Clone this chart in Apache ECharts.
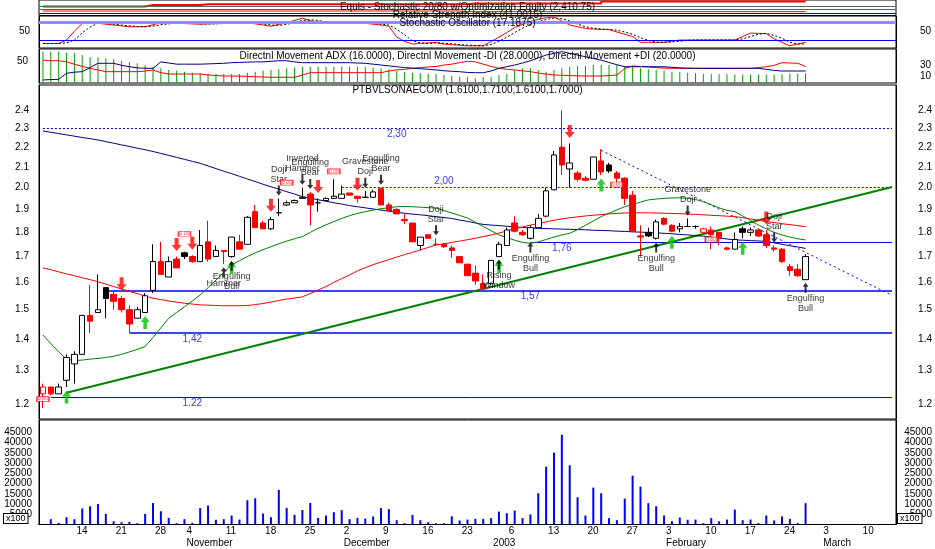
<!DOCTYPE html>
<html><head><meta charset="utf-8">
<script src="https://cdn.jsdelivr.net/npm/echarts@6/dist/echarts.min.js"></script>
<style>html,body{margin:0;padding:0;background:#fff}#c{width:935px;height:549px}</style>
</head><body><div id="c"></div>
<script>
// ---------------- DATA ----------------
const tradingDays = {
  '2002-10': [8,9,10,11,14,15,16,17,18,21,22,23,24,25,28,29,30,31],
  '2002-11': [4,5,6,7,8,11,12,13,14,15,18,19,20,21,22,25,26,27,28,29],
  '2002-12': [2,3,4,5,6,9,10,11,12,13,16,17,18,19,20,23,27,30,31],
  '2003-01': [2,3,6,7,8,9,10,13,14,15,16,17,20,21,22,23,24,27,28,29,30,31],
  '2003-02': [3,4,5,6,7,10,11,12,13,14,17,18,19,20,21,24,25,26,27,28],
  '2003-03': [3,4,5,6,7,10,11,12,13,14]
};
const monthNames = ['January','February','March','April','May','June','July','August','September','October','November','December'];

const opens = [1.23,1.25,1.23,1.27,1.32,1.35,1.48,1.49,1.58,1.555,
1.54,1.50,1.47,1.49,1.57,1.68,1.62,1.69,1.715,1.70,
1.68,1.76,1.70,1.725,1.70,1.76,1.75,1.89,1.84,1.815,
1.885,1.92,1.93,1.95,1.97,1.93,1.94,1.95,1.95,1.975,
1.96,1.955,1.955,1.995,1.92,1.90,1.855,1.84,1.745,1.79,
1.75,1.75,1.735,1.70,1.67,1.635,1.595,1.595,1.70,1.745,
1.84,1.80,1.775,1.82,1.87,1.99,2.20,2.09,2.07,2.045,
2.04,2.13,2.11,2.07,2.045,1.965,1.785,1.80,1.775,1.86,
1.83,1.815,1.825,1.825,1.80,1.81,1.80,1.735,1.73,1.815,
1.80,1.81,1.79,1.735,1.73,1.66,1.65,1.61];
const closes = [1.25,1.23,1.25,1.34,1.35,1.48,1.46,1.50,1.54,1.53,
1.50,1.45,1.50,1.55,1.68,1.63,1.68,1.655,1.70,1.68,
1.745,1.69,1.725,1.72,1.78,1.73,1.865,1.82,1.815,1.855,
1.885,1.93,1.94,1.955,1.92,1.93,1.95,1.96,1.97,1.965,
1.95,1.955,1.98,1.92,1.895,1.88,1.85,1.76,1.78,1.775,
1.75,1.74,1.725,1.675,1.625,1.605,1.578,1.685,1.75,1.81,
1.805,1.79,1.82,1.86,1.985,2.16,2.11,2.12,2.04,2.035,
2.15,2.075,2.08,2.045,1.95,1.805,1.78,1.785,1.845,1.835,
1.805,1.825,1.825,1.825,1.815,1.79,1.775,1.73,1.77,1.80,
1.81,1.785,1.745,1.73,1.68,1.645,1.625,1.70];
const lows = [1.19,1.225,1.23,1.25,1.26,1.35,1.42,1.49,1.47,1.50,
1.49,1.42,1.47,1.49,1.56,1.63,1.62,1.655,1.69,1.675,
1.68,1.68,1.70,1.67,1.695,1.73,1.75,1.82,1.815,1.81,
1.87,1.915,1.93,1.95,1.83,1.89,1.94,1.95,1.95,1.965,
1.93,1.955,1.955,1.92,1.89,1.88,1.835,1.76,1.725,1.775,
1.75,1.735,1.695,1.675,1.625,1.59,1.575,1.59,1.70,1.745,
1.80,1.785,1.77,1.82,1.865,1.99,2.06,2.0,2.03,2.03,
2.04,2.06,2.07,2.0,1.92,1.80,1.70,1.78,1.77,1.83,
1.80,1.80,1.825,1.815,1.80,1.73,1.745,1.725,1.73,1.775,
1.785,1.78,1.735,1.72,1.675,1.625,1.62,1.61];
const highs = [1.26,1.25,1.26,1.35,1.36,1.48,1.59,1.63,1.58,1.57,
1.55,1.515,1.51,1.56,1.75,1.76,1.70,1.70,1.72,1.705,
1.81,1.85,1.745,1.725,1.78,1.79,1.87,1.92,1.85,1.865,
1.95,1.94,1.945,2.0,1.98,1.95,1.955,2.04,2.01,1.975,
1.96,1.985,1.99,2.0,1.93,1.905,1.88,1.84,1.78,1.79,
1.775,1.755,1.745,1.70,1.67,1.665,1.63,1.685,1.76,1.82,
1.87,1.81,1.83,1.88,2.0,2.18,2.40,2.22,2.08,2.055,
2.15,2.19,2.12,2.08,2.05,1.985,1.83,1.82,1.855,1.865,
1.835,1.84,1.86,1.83,1.82,1.825,1.80,1.74,1.80,1.825,
1.82,1.815,1.81,1.745,1.735,1.67,1.67,1.71];
const volumes = [200,2600,800,3570,2600,7800,8900,10000,5200,1600,
1100,1300,650,5200,10500,6500,3250,650,2600,800,
8000,9250,2300,2600,4400,2400,11850,12800,5350,3570,
16900,8100,4700,7100,10500,3250,4400,6000,7000,2600,
3250,2900,3900,8000,7500,2100,650,4700,2100,1100,
650,650,4000,1950,2400,2750,2750,3100,6300,5500,
6800,3100,4900,15250,28200,35050,43800,28900,13300,4400,
18000,15250,3100,2100,12650,23850,18500,10400,8900,4400,
1600,3400,2300,2400,650,3100,1600,2400,7300,2100,
2400,650,4400,1950,3900,2750,650,10400];
const maLong = [2.286,2.279,2.272,2.265,2.258,2.251,2.245,2.238,2.229,2.221,
2.212,2.204,2.195,2.187,2.178,2.168,2.158,2.148,2.138,2.128,
2.118,2.105,2.092,2.079,2.067,2.054,2.041,2.029,2.016,2.004,
1.993,1.981,1.970,1.958,1.951,1.944,1.937,1.930,1.924,1.917,
1.912,1.907,1.902,1.897,1.892,1.887,1.883,1.879,1.876,1.872,
1.868,1.864,1.860,1.853,1.847,1.840,1.834,1.831,1.829,1.826,
1.823,1.821,1.818,1.817,1.816,1.815,1.814,1.813,1.812,1.811,
1.809,1.808,1.807,1.805,1.804,1.802,1.801,1.799,1.798,1.796,
1.794,1.791,1.789,1.786,1.784,1.780,1.776,1.772,1.768,1.767,
1.765,1.764,1.762,1.756,1.750,1.744,1.739,1.733];
const maMid = [1.655,1.648,1.640,1.632,1.625,1.617,1.610,1.602,1.593,1.584,
1.575,1.566,1.558,1.549,1.541,1.536,1.531,1.527,1.523,1.520,
1.517,1.516,1.515,1.514,1.514,1.514,1.515,1.518,1.522,1.527,
1.533,1.538,1.542,1.546,1.558,1.571,1.584,1.600,1.614,1.628,
1.644,1.656,1.668,1.678,1.688,1.698,1.708,1.717,1.727,1.737,
1.747,1.752,1.758,1.763,1.769,1.775,1.782,1.789,1.797,1.806,
1.815,1.823,1.831,1.838,1.845,1.852,1.858,1.863,1.867,1.871,
1.874,1.877,1.880,1.882,1.884,1.885,1.885,1.885,1.884,1.883,
1.882,1.881,1.879,1.878,1.876,1.874,1.872,1.870,1.868,1.863,
1.858,1.852,1.846,1.842,1.837,1.833,1.829,1.824];
const maShort = [1.413,1.385,1.358,1.335,1.330,1.332,1.335,1.337,1.340,1.344,
1.350,1.358,1.366,1.375,1.405,1.437,1.470,1.490,1.510,1.531,
1.553,1.580,1.608,1.637,1.667,1.684,1.700,1.715,1.728,1.740,
1.752,1.763,1.773,1.782,1.800,1.817,1.832,1.846,1.860,1.872,
1.882,1.890,1.897,1.903,1.908,1.912,1.913,1.912,1.910,1.908,
1.906,1.895,1.884,1.873,1.862,1.843,1.825,1.807,1.789,1.778,
1.767,1.758,1.754,1.760,1.770,1.780,1.789,1.796,1.812,1.830,
1.849,1.868,1.883,1.898,1.912,1.922,1.933,1.943,1.947,1.950,
1.952,1.953,1.950,1.945,1.935,1.921,1.907,1.896,1.890,1.871,
1.851,1.831,1.815,1.800,1.789,1.780,1.773,1.768];
const stochK = [8,8,8,20,50,78,78,78,75,72,
69,66,66,66,73,80,79,78,77,76,
75,76,77,78,80,80,80,76,72,68,
74,80,88,96,87,82,78,80,82,84,
81,78,75,72,68,30,15,6,8,10,
12,6,4,2,0,0,0,15,30,46,
63,74,84,92,97,100,86,72,66,60,
58,57,56,48,40,32,12,12,12,12,
16,20,20,20,20,20,20,20,20,32,
44,43,42,24,12,0,6,12];
const stochD = [8,8,8,10,20,45,65,78,77,75,
72,69,67,66,68,73,76,79,78,77,
76,76,76,77,78,79,80,79,76,72,
71,74,81,88,90,88,82,80,80,82,
82,81,78,75,72,57,38,17,10,8,
10,9,7,4,2,1,0,5,15,30,
46,61,74,83,91,96,94,86,75,66,
61,58,57,54,48,40,28,19,12,12,
13,16,19,20,20,20,20,20,20,24,
32,40,43,36,26,12,6,6];
const adx = [54,54,54,52,51,48,44,44,42,40.5,
38,36,33.5,30.5,27.5,24.7,21.8,20.6,18.8,17,
16,14.7,14.7,14.7,14.7,14.7,17,18.8,20.6,21.8,
23,24.7,26,27.5,27.5,27.5,27.5,27.5,27.5,27.5,
27.5,27.5,26,24.7,23,20.6,18.8,17,16,14.7,
14.7,13,11.2,10,9,7.2,8.9,10,13,14.7,
21.8,24.7,24.7,21.8,18.8,21.8,24.7,27.5,28.8,28.8,
30.5,30.5,30.5,30.5,28.8,27.5,24.7,23,21.8,20.6,
18.8,18.8,17,16,14.7,14.7,14.5,14.3,14,14,
14,14,14,14,14.5,15,15.5,16];
const minusDI = [39,38,38,36,32,28,24.7,21.8,18.8,18.8,
18.8,18.8,18.8,20,21.8,17,14.7,14.7,14.7,14.7,
14.7,13,12,11.2,11.2,11,10.5,10,9.5,9,
9,9,9,13,17,17,17,17,17,17,
17,17,17,17,20,22,23,24.7,26,27,
28,30.5,32,34.6,37,36,32,28,24.7,23,
21.8,20.3,18.8,16.5,14.5,13,12.5,12,11.5,11.2,
11.2,11.2,12,13,24.7,28.8,28,27,26,25,
24.7,24.7,24.7,24.7,24.7,24.7,24.7,24.7,24.7,24.7,
24.7,26,27.5,30,34.6,34,33.5,28];
const plusDI = [4.2,5,5.4,16,18,18.8,26,33.5,33.5,33.5,
30,27.5,25.5,24.7,24.7,36,34,32,32,32,
32,32.5,33,33.5,34.6,35,35.5,36,36,37,
38,38,36,34.6,34.6,34.6,34.6,34.6,34.6,34.6,
34,33.5,32,30.5,29,27.5,26,25,24,23,
21.8,20.5,19.5,18.8,17.5,17,17,20,24.7,27.5,
30.5,34,38,43,48,51,54,51,48,45,
42,39,35,31,27.5,27.5,27.5,27.5,27.5,27.5,
26.5,25.5,25,24.7,24.7,24.7,24.7,24.7,24.7,24.7,
24.7,24.7,23,21,20,20,20,20];
const equity = [58,58,58,58,58,58,58,58,58,58,
58,58,58,68,68,68,68,68,68,68,
72,72,72,72,72,72,72,72,72,72,
72,72,72,72,72,72,72,72,72,72,
72,72,72,72,72,72,72,72,72,72,
72,72,72,72,77,77,77,77,77,77,
77,77,77,77,77,77,77,77,77,77,
77,90,90,90,90,90,90,90,90,90,
90,90,90,90,90,90,90,90,90,90,
90,90,90,90,90,90,90,90];
const equityBase = [29,29,29,29,29,29,29,29,29,29,
29,29,29,29,29,29,29,29,29,29,
29,29,29,29,29,29,29,29,29,29,
29,29,29,29,29,29,29,29,29,29,
29,29,29,29,29,29,29,29,29,29,
29,29,29,29,25,25,25,25,25,25,
25,25,25,25,25,25,25,25,25,25,
25,25,25,25,25,25,25,25,25,25,
25,25,25,25,25,25,25,25,25,25,
25,25,25,25,25,25,25,25];

const levelValues = [2.30, 2.00, 1.76, 1.57, 1.42, 1.22];
const levelLabels = ['2,30', '2,00', '1,76', '1,57', '1,42', '1.22'];
const levelStart  = [0, 38, 62, 8, 11, 1];
const levelLabelAt = [45, 51, 66, 62, 19, 19];
const supportLine = [[3, 1.233], [108, 2.003]];
const resistLine  = [[71, 2.184], [108, 1.551]];

const sellSignals = [10, 17, 19, 29, 35, 40, 67, 92];
const buySignals  = [3, 13, 24, 58, 71, 80, 89];
const bearPatterns = [[30,'Doji\nStar'],[33,'Inverted\nHammer'],[34,'Engulfing\nBear'],[41,'Gravestone\nDoji'],[43,'Engulfing\nBear'],[50,'Doji\nStar'],[82,'Gravestone\nDoji'],[93,'Doji\nStar']];
const bullPatterns = [[23,'Hammer'],[24,'Engulfing\nBull'],[58,'Rising\nWindow'],[62,'Engulfing\nBull'],[78,'Engulfing\nBull'],[97,'Engulfing\nBull']];
const zeroMarks = [[0,1.215],[18,1.793],[31,2.024],[37,2.078],[73,2.015],[85,1.770]];

const priceTicks = [1.2,1.3,1.4,1.5,1.6,1.7,1.8,1.9,2.0,2.1,2.2,2.3,2.4];
const priceMinorTicks = [1.2,1.25,1.3,1.35,1.4,1.45,1.5,1.55,1.6,1.65,1.7,1.75,1.8,1.85,1.9,1.95,2.0,2.05,2.1,2.15,2.2,2.25,2.3,2.35,2.4,2.45,2.5];
const volumeTicks = [5000,10000,15000,20000,25000,30000,35000,40000,45000];
const volumeMinorTicks = [2500,5000,7500,10000,12500,15000,17500,20000,22500,25000,27500,30000,32500,35000,37500,40000,42500,45000,47500,50000];

const titles = {
  equity: 'Equis - Stochastic 20/80 w/Optimization Equity (2,410.75)',
  rsi: 'Relative Strength Index (41.0015)',
  stoch: 'Stochastic Oscillator (17.1875)',
  dmi: 'Directnl Movement ADX (16.0000), Directnl Movement -DI (28.0000), Directnl Movement +DI (20.0000)',
  price: 'PTBVLSONAECOM (1.6100,1.7100,1.6100,1.7000)'
};

// ---------------- BUILD ----------------
const dates = [];
for (const ym in tradingDays) for (const d of tradingDays[ym]) dates.push(ym + '-' + String(d).padStart(2, '0'));
const jsDate = s => new Date(s + 'T12:00:00Z');
const isMonthStart = dates.map((s, i) => i > 0 && s.slice(5, 7) !== dates[i - 1].slice(5, 7));
const isWeekStart = dates.map((s, i) => i > 0 && jsDate(s).getUTCDay() <= jsDate(dates[i - 1]).getUTCDay());
const showDay = dates.map((s, i) => {
  if (!isWeekStart[i]) return false;
  for (let j = i + 1; j < dates.length && !isWeekStart[j]; j++) if (isMonthStart[j]) return false;
  return true;
});
const monthLabel = s => { const m = +s.slice(5, 7); return m === 1 ? s.slice(0, 4) : monthNames[m - 1]; };

const FONT = 'Liberation Sans, Arial, sans-serif';
const L = 39, R = 39;
const black = '#000000';

function candleStyle(i) {
  const o = opens[i], c = closes[i];
  const prev = i > 0 ? closes[i - 1] : Infinity;
  const col = c < prev ? '#ff0000' : black;
  const fill = c >= o ? '#ffffff' : col;
  return { color: fill, color0: fill, borderColor: col, borderColor0: col, borderWidth: 1 };
}
const candleData = opens.map((o, i) => ({ value: [o, closes[i], lows[i], highs[i]], itemStyle: candleStyle(i) }));

const ARROW_DOWN_BIG = 'path://M3,0 L7,0 L7,7 L10,7 L5,13 L0,7 L3,7 Z';
const ARROW_UP_BIG = 'path://M5,0 L10,6 L7,6 L7,13 L3,13 L3,6 L0,6 Z';
const ARROW_DOWN_THIN = 'path://M2,0 L4,0 L4,6 L6,6 L3,10 L0,6 L2,6 Z';
const ARROW_UP_THIN = 'path://M3,0 L6,4 L4,4 L4,10 L2,10 L2,4 L0,4 Z';

const labelSideStyle = { '2,00': 'top' };
const dottedLevel = { '2,30': true, '2,00': true };

const lastCat = dates[dates.length - 1];
const markLines = levelValues.map((v, k) => [
  { coord: [dates[levelStart[k]], v], lineStyle: { color: '#0000ff', width: (v === 1.57 || v === 1.42) ? 1.5 : 1, type: dottedLevel[levelLabels[k]] ? [2, 2] : 'solid' } },
  { coord: [lastCat, v] }
]);
markLines.push([
  { coord: [dates[supportLine[0][0]], supportLine[0][1]], lineStyle: { color: '#008000', width: 2, type: 'solid' } },
  { coord: [dates[supportLine[1][0]], supportLine[1][1]] }
]);
markLines.push([
  { coord: [dates[resistLine[0][0]], resistLine[0][1]], lineStyle: { color: '#0000ff', width: 1, type: [2, 3] } },
  { coord: [dates[resistLine[1][0]], resistLine[1][1]] }
]);

const hiddenCat = g => ({ type: 'category', gridIndex: g, data: dates, boundaryGap: true, show: false });
const axisFont = { fontSize: 10, color: black, fontFamily: FONT };

const option = {
  animation: false,
  backgroundColor: '#ffffff',
  textStyle: { fontFamily: FONT },
  title: [
    { text: titles.equity, left: 'center', top: 2 },
    { text: titles.rsi, left: 'center', top: 10 },
    { text: titles.stoch, left: 'center', top: 18 },
    { text: titles.dmi, left: 'center', top: 51 },
    { text: titles.price, left: 'center', top: 85 }
  ].map(t => Object.assign(t, { padding: 0, textStyle: { fontSize: 10, fontWeight: 'normal', color: black, fontFamily: FONT } })),
  grid: [
    { left: L, right: R, top: 0, height: 15.5 },
    { left: L, right: R, top: 16, height: 32 },
    { left: L, right: R, top: 49, height: 34 },
    { left: L, right: R, top: 85, height: 334 },
    { left: L, right: R, top: 420, height: 104.5 }
  ].map(g => Object.assign(g, { show: true, borderColor: black, borderWidth: 1, backgroundColor: 'transparent' })),
  xAxis: [
    hiddenCat(0), hiddenCat(1), hiddenCat(2), hiddenCat(3),
    { type: 'category', gridIndex: 4, data: dates, boundaryGap: true, position: 'bottom',
      axisLine: { lineStyle: { color: black } },
      axisTick: { alignWithLabel: true, length: 12.5, interval: i => isWeekStart[i] || isMonthStart[i], lineStyle: { color: black } },
      axisLabel: Object.assign({ interval: i => showDay[i], formatter: v => String(+v.slice(8)), align: 'left', margin: 2, padding: [0, 0, 0, 2] }, axisFont) },
    { type: 'category', gridIndex: 4, data: dates, boundaryGap: true, position: 'bottom', offset: 12.5,
      axisLine: { lineStyle: { color: black } },
      axisTick: { alignWithLabel: true, length: 11, interval: i => isMonthStart[i], lineStyle: { color: black } },
      axisLabel: Object.assign({ interval: i => isMonthStart[i], formatter: v => monthLabel(v), align: 'left', margin: 1, padding: [0, 0, 0, 2] }, axisFont) }
  ],
  yAxis: [
    { type: 'value', gridIndex: 0, min: 0, max: 100, show: false },
    { type: 'value', gridIndex: 1, min: -7.7, max: 103.3, position: 'left', splitLine: { show: false },
      axisLine: { show: true, lineStyle: { color: black } },
      axisTick: { customValues: [0, 25, 50, 75, 100], length: 4, lineStyle: { color: black } },
      axisLabel: Object.assign({ customValues: [50], margin: 9 }, axisFont) },
    { type: 'value', gridIndex: 1, min: -7.7, max: 103.3, position: 'right', splitLine: { show: false },
      axisLine: { show: true, lineStyle: { color: black } },
      axisTick: { customValues: [0, 25, 50, 75, 100], length: 4, lineStyle: { color: black } },
      axisLabel: Object.assign({ customValues: [50], margin: 35, align: 'right' }, axisFont) },
    { type: 'value', gridIndex: 2, min: -1.05, max: 77.85, position: 'left', splitLine: { show: false },
      axisLine: { show: true, lineStyle: { color: black } },
      axisTick: { customValues: [10, 30, 50, 70], length: 4, lineStyle: { color: black } },
      axisLabel: Object.assign({ customValues: [50], margin: 11 }, axisFont) },
    { type: 'value', gridIndex: 2, min: -1.05, max: 58.6, position: 'right', splitLine: { show: false },
      axisLine: { show: true, lineStyle: { color: black } },
      axisTick: { customValues: [10, 20, 30, 40, 50], length: 4, lineStyle: { color: black } },
      axisLabel: Object.assign({ customValues: [10, 30], margin: 35, align: 'right' }, axisFont) },
    { type: 'log', logBase: 10, gridIndex: 3, min: 1.1592, max: 2.5476, position: 'left', splitLine: { show: false },
      axisLine: { show: true, lineStyle: { color: black } },
      axisTick: { customValues: priceTicks, length: 6, lineStyle: { color: black } },
      axisLabel: Object.assign({ customValues: priceTicks, margin: 10, formatter: v => (+v).toFixed(1) }, axisFont) },
    { type: 'log', logBase: 10, gridIndex: 3, min: 1.1592, max: 2.5476, position: 'right', splitLine: { show: false },
      axisLine: { show: true, lineStyle: { color: black } },
      axisTick: { customValues: priceTicks, length: 6, lineStyle: { color: black } },
      axisLabel: Object.assign({ customValues: priceTicks, margin: 36, align: 'right', formatter: v => (+v).toFixed(1) }, axisFont) },
    { type: 'log', logBase: 10, gridIndex: 3, min: 1.1592, max: 2.5476, position: 'left', splitLine: { show: false },
      axisLine: { show: false }, axisLabel: { show: false },
      axisTick: { customValues: priceMinorTicks, length: 3, lineStyle: { color: black } } },
    { type: 'log', logBase: 10, gridIndex: 3, min: 1.1592, max: 2.5476, position: 'right', splitLine: { show: false },
      axisLine: { show: false }, axisLabel: { show: false },
      axisTick: { customValues: priceMinorTicks, length: 3, lineStyle: { color: black } } },
    { type: 'value', gridIndex: 4, min: 0, max: 51000, position: 'left', splitLine: { show: false },
      axisLine: { show: true, lineStyle: { color: black } },
      axisTick: { customValues: volumeMinorTicks, length: 3, lineStyle: { color: black } },
      axisLabel: Object.assign({ customValues: volumeTicks, margin: 7, formatter: v => String(v) }, axisFont) },
    { type: 'value', gridIndex: 4, min: 0, max: 51000, position: 'right', splitLine: { show: false },
      axisLine: { show: true, lineStyle: { color: black } },
      axisTick: { customValues: volumeMinorTicks, length: 3, lineStyle: { color: black } },
      axisLabel: Object.assign({ customValues: volumeTicks, margin: 36, align: 'right', formatter: v => String(v) }, axisFont) }
  ],
  series: [
    // equity pane
    { type: 'line', xAxisIndex: 0, yAxisIndex: 0, data: equity, step: 'end', showSymbol: false, lineStyle: { color: '#ff0000', width: 2 },
      markLine: { silent: true, symbol: ['none', 'none'], label: { show: false },
        data: [{ yAxis: 58, lineStyle: { color: '#606060', width: 1, type: 'solid' } }, { yAxis: 42, lineStyle: { color: '#606060', width: 1, type: 'solid' } }, { yAxis: 14, lineStyle: { color: '#0000ff', width: 1, type: 'solid' } }] } },
    { type: 'line', xAxisIndex: 0, yAxisIndex: 0, data: equityBase, showSymbol: false, lineStyle: { color: '#ff0000', width: 1 } },
    // stochastic pane
    { type: 'line', xAxisIndex: 1, yAxisIndex: 1, data: stochK, showSymbol: false, lineStyle: { color: '#ff0000', width: 1 },
      markLine: { silent: true, symbol: ['none', 'none'], label: { show: false },
        data: [{ yAxis: 80, lineStyle: { color: '#8c8cff', width: 3, type: 'solid' } }, { yAxis: 20, lineStyle: { color: '#0000ff', width: 1, type: 'solid' } }] } },
    { type: 'line', xAxisIndex: 1, yAxisIndex: 1, data: stochD, showSymbol: false, lineStyle: { color: black, width: 1, type: [2, 2] } },
    // DMI pane
    { type: 'bar', xAxisIndex: 2, yAxisIndex: 4, data: adx, barWidth: 1, itemStyle: { color: '#00a000' } },
    { type: 'line', xAxisIndex: 2, yAxisIndex: 4, data: minusDI, showSymbol: false, lineStyle: { color: '#ff0000', width: 1 } },
    { type: 'line', xAxisIndex: 2, yAxisIndex: 4, data: plusDI, showSymbol: false, lineStyle: { color: '#000080', width: 1 } },
    // price pane
    { type: 'line', xAxisIndex: 3, yAxisIndex: 5, data: maLong, showSymbol: false, lineStyle: { color: '#000080', width: 1 }, z: 1 },
    { type: 'line', xAxisIndex: 3, yAxisIndex: 5, data: maMid, showSymbol: false, lineStyle: { color: '#ff0000', width: 1 }, z: 1 },
    { type: 'line', xAxisIndex: 3, yAxisIndex: 5, data: maShort, showSymbol: false, lineStyle: { color: '#008000', width: 1 }, z: 1 },
    { type: 'candlestick', xAxisIndex: 3, yAxisIndex: 5, data: candleData, barWidth: 6, z: 3,
      markLine: { silent: true, symbol: ['none', 'none'], label: { show: false }, data: markLines, z: 1 } },
    { type: 'scatter', xAxisIndex: 3, yAxisIndex: 5, z: 5, symbol: 'rect', symbolSize: 0,
      label: { show: true, color: '#0000ff', fontSize: 10, fontFamily: FONT, distance: 1, formatter: p => p.data.name },
      data: levelValues.map((v, k) => ({ name: levelLabels[k], value: [dates[levelLabelAt[k]], v], label: { position: labelSideStyle[levelLabels[k]] || 'bottom' } })) },
    { type: 'scatter', xAxisIndex: 3, yAxisIndex: 5, z: 6, symbol: ARROW_DOWN_BIG, symbolSize: [10, 13], symbolOffset: [0, -12],
      itemStyle: { color: '#ff0000' }, data: sellSignals.map(i => [dates[i], highs[i]]) },
    { type: 'scatter', xAxisIndex: 3, yAxisIndex: 5, z: 6, symbol: ARROW_UP_BIG, symbolSize: [9, 13], symbolOffset: [0, 10],
      itemStyle: { color: '#00c000' }, data: buySignals.map(i => [dates[i], lows[i]]) },
    { type: 'scatter', xAxisIndex: 3, yAxisIndex: 5, z: 7, symbol: ARROW_DOWN_THIN, symbolSize: [6, 10], symbolOffset: [0, -8],
      itemStyle: { color: black },
      label: { show: true, position: 'top', distance: 1, color: black, fontSize: 9, lineHeight: 10, fontFamily: FONT, formatter: p => p.data.name },
      data: bearPatterns.map(([i, t]) => ({ name: t, value: [dates[i], highs[i]] })) },
    { type: 'scatter', xAxisIndex: 3, yAxisIndex: 5, z: 7, symbol: ARROW_UP_THIN, symbolSize: [6, 10], symbolOffset: [0, 8],
      itemStyle: { color: black },
      label: { show: true, position: 'bottom', distance: 1, color: black, fontSize: 9, lineHeight: 10, fontFamily: FONT, formatter: p => p.data.name },
      data: bullPatterns.map(([i, t]) => ({ name: t, value: [dates[i], lows[i]] })) },
    { type: 'scatter', xAxisIndex: 3, yAxisIndex: 5, z: 8, symbol: 'rect', symbolSize: [12, 5],
      itemStyle: { color: '#ffffff', borderColor: '#ff0000', borderWidth: 1 },
      label: { show: true, position: 'inside', color: '#ff0000', fontSize: 5, formatter: '0.00' },
      data: zeroMarks.map(([i, v]) => [dates[i], v]) },
    // volume pane
    { type: 'bar', xAxisIndex: 4, yAxisIndex: 9, data: volumes, barWidth: 2, itemStyle: { color: '#0000ff' } }
  ],
  graphic: [
    { type: 'text', left: 3, top: 513, z: 100, style: { text: 'x100', fontSize: 9, fontFamily: FONT, fill: black, backgroundColor: '#ffffff', borderColor: black, borderWidth: 1, padding: [0, 2] } },
    { type: 'text', left: 897, top: 513, z: 100, style: { text: 'x100', fontSize: 9, fontFamily: FONT, fill: black, backgroundColor: '#ffffff', borderColor: black, borderWidth: 1, padding: [0, 2] } }
  ]
};
const chart = echarts.init(document.getElementById('c'));
chart.setOption(option);
</script>
</body></html>
